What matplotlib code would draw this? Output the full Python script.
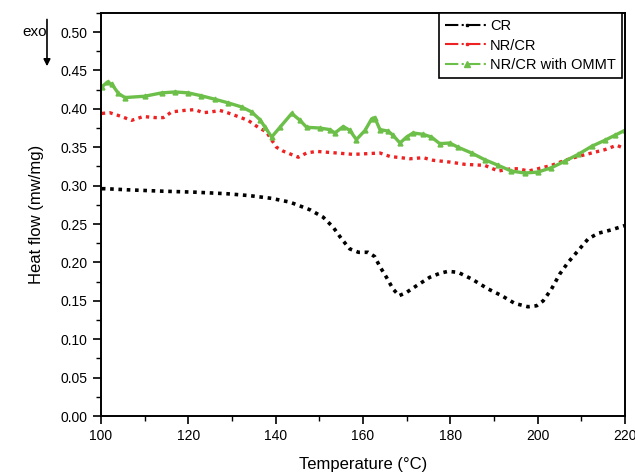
import matplotlib.pyplot as plt
from matplotlib.lines import Line2D
from matplotlib.ticker import MultipleLocator

plt.rcParams['font.family'] = ['Liberation Sans', 'DejaVu Sans']

# CR
cr_t = [100.2, 101, 106, 114, 121.5, 129, 134, 139, 143.3, 147.9, 150.9, 153.2,
        155.1, 157, 159, 161.2, 162.7, 163.9, 165.4, 166.9, 168.3, 170, 172.3,
        175.3, 177.6, 179.5, 181.8, 184.9, 188.7, 191.8, 194.8, 197.8, 199.8,
        201.3, 203.2, 205.1, 207, 209.3, 211.6, 213.9, 216.9, 220]
cr_v = [0.296, 0.296, 0.2946, 0.2928, 0.2915, 0.2894, 0.287, 0.2835, 0.2785,
        0.2685, 0.2589, 0.2458, 0.2307, 0.2176, 0.2132, 0.2132, 0.2076, 0.1945,
        0.1806, 0.1654, 0.1567, 0.161, 0.1697, 0.1806, 0.1858, 0.1884, 0.1871,
        0.1785, 0.1654, 0.1567, 0.1466, 0.1423, 0.1436, 0.150, 0.1654, 0.185,
        0.200, 0.2154, 0.2307, 0.238, 0.2424, 0.248]

# NR/CR
nr_t = [100.2, 102, 104.7, 107, 109.7, 112.4, 114.3, 116.2, 119.2, 121.5, 123.4,
        125.3, 127.2, 129.1, 131.4, 133.7, 136, 137.9, 139.5, 140.2, 141.7,
        145.2, 147.1, 149.4, 154, 157.8, 163.9, 166.2, 170.8, 173.8, 176.1,
        179.9, 183.4, 187.9, 191, 194, 195.6, 197.9, 200.1, 203.2, 206.3, 209.3,
        212.4, 215.4, 218.1, 219.5]
nr_v = [0.394, 0.395, 0.390, 0.385, 0.390, 0.3886, 0.3886, 0.396, 0.398, 0.399,
        0.395, 0.396, 0.398, 0.3947, 0.390, 0.385, 0.376, 0.370, 0.356, 0.350,
        0.345, 0.337, 0.3425, 0.3446, 0.3425, 0.3407, 0.3425, 0.338, 0.335,
        0.3364, 0.333, 0.3307, 0.3277, 0.3264, 0.319, 0.322, 0.322, 0.319, 0.322,
        0.3264, 0.333, 0.338, 0.3425, 0.3468, 0.3525, 0.3495]

# NR/CR with OMMT
om_t = [100.2, 101.5, 102.5, 104, 105.5, 110, 113.9, 117, 120, 123, 126.1, 129.2,
        132.2, 134.5, 136.4, 137.6, 139.1, 141, 143.7, 145.6, 147.1, 150.1,
        152.4, 153.6, 155.5, 157, 158.5, 160.5, 162, 162.7, 163.9, 165.8, 166.9,
        168.5, 170, 171.5, 173.8, 175.7, 177.6, 179.9, 181.8, 184.9, 187.9, 191,
        194, 197.1, 200.1, 203.2, 206.3, 209.3, 212.4, 215.4, 217.7, 220]
om_v = [0.4286, 0.435, 0.432, 0.420, 0.4147, 0.4164, 0.4208, 0.422, 0.4208,
        0.417, 0.4125, 0.4077, 0.4025, 0.396, 0.386, 0.376, 0.3633, 0.376, 0.394,
        0.385, 0.376, 0.375, 0.373, 0.3686, 0.377, 0.372, 0.360, 0.372, 0.387,
        0.3886, 0.373, 0.371, 0.3655, 0.3555, 0.3633, 0.3686, 0.3668, 0.3633,
        0.3547, 0.3555, 0.350, 0.3425, 0.3338, 0.3264, 0.319, 0.3164, 0.3177,
        0.3234, 0.332, 0.3407, 0.3512, 0.359, 0.3655, 0.372]

fig = plt.figure(figsize=(6.35, 4.76), dpi=100)
ax = fig.add_axes([0.159, 0.126, 0.825, 0.847])

ax.plot(cr_t, cr_v, color='black', ls=(0, (1, 1.3)), lw=2.6)
ax.plot(nr_t, nr_v, color='#ee2222', ls=(0, (1, 1.3)), lw=2.4)
ax.plot(om_t, om_v, color='#6cbf48', ls='-', lw=2.4, marker='^', ms=3.5,
        mec='#6cbf48')

ax.set_xlim(100, 220)
ax.set_ylim(0, 0.525)
ax.xaxis.set_major_locator(MultipleLocator(20))
ax.xaxis.set_minor_locator(MultipleLocator(10))
ax.yaxis.set_major_locator(MultipleLocator(0.05))
ax.yaxis.set_minor_locator(MultipleLocator(0.025))
ax.yaxis.set_major_formatter(plt.FormatStrFormatter('%.2f'))
ax.tick_params(which='major', length=6, width=1.2, labelsize=10, direction='out')
ax.tick_params(which='minor', length=3.5, width=1.0, direction='out')
for s in ax.spines.values():
    s.set_linewidth(1.4)

ax.set_xlabel('Temperature (°C)', fontsize=12, labelpad=10)
ax.set_ylabel('Heat flow (mw/mg)', fontsize=12, labelpad=12)

handles = [
    Line2D([], [], color='black', ls='-.', marker='s', ms=2),
    Line2D([], [], color='#ee2222', ls='-.', marker='s', ms=2),
    Line2D([], [], color='#6cbf48', ls='-.', marker='^', ms=4),
]
leg = ax.legend(handles, ['CR', 'NR/CR', 'NR/CR with OMMT'], loc='upper right',
                bbox_to_anchor=(0.994, 1.0), fancybox=False, framealpha=1,
                edgecolor='black', fontsize=10.5, handlelength=3.0,
                handletextpad=0.1, borderaxespad=0, labelspacing=0.4,
                borderpad=0.4)
leg.get_frame().set_linewidth(1.2)

fig.text(0.035, 0.932, 'exo', fontsize=11, va='center')
ax.annotate('', xy=(0.074, 0.855), xytext=(0.074, 0.965),
            xycoords='figure fraction', textcoords='figure fraction',
            arrowprops=dict(arrowstyle='-|>', color='black', lw=1.2))

fig.savefig('out.png', dpi=100)
